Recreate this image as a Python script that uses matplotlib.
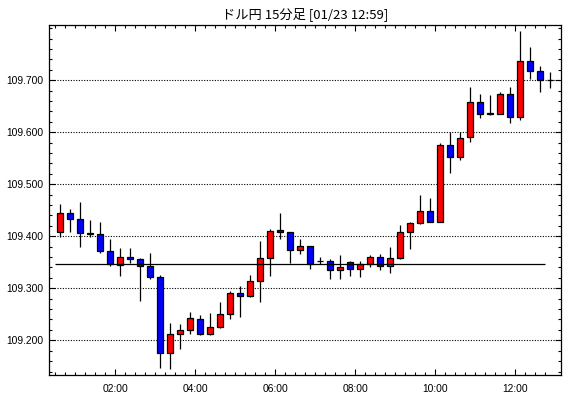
import numpy as np
import matplotlib
matplotlib.use("Agg")
import matplotlib.pyplot as plt
from matplotlib.ticker import FixedLocator, MultipleLocator

title = "ドル円 15分足 [01/23 12:59]"

# candle start times in hours (15-minute bars from 00:30)
start_hours = [0.5 + 0.25 * i for i in range(50)]

opens = [109.409, 109.444, 109.433, 109.406, 109.405, 109.371, 109.344, 109.360, 109.356, 109.342,
         109.322, 109.175, 109.212, 109.219, 109.240, 109.212, 109.225, 109.250, 109.290, 109.286,
         109.314, 109.358, 109.412, 109.408, 109.373, 109.381, 109.353, 109.353, 109.335, 109.350,
         109.337, 109.346, 109.360, 109.342, 109.358, 109.408, 109.425, 109.449, 109.427, 109.575,
         109.552, 109.590, 109.659, 109.638, 109.636, 109.674, 109.630, 109.738, 109.717, 109.700]
highs = [109.462, 109.453, 109.466, 109.431, 109.428, 109.394, 109.378, 109.378, 109.358, 109.368,
         109.325, 109.233, 109.231, 109.254, 109.249, 109.253, 109.274, 109.295, 109.304, 109.326,
         109.391, 109.414, 109.445, 109.408, 109.395, 109.381, 109.360, 109.356, 109.364, 109.352,
         109.353, 109.364, 109.366, 109.379, 109.422, 109.427, 109.479, 109.473, 109.579, 109.600,
         109.600, 109.688, 109.674, 109.672, 109.678, 109.688, 109.794, 109.764, 109.727, 109.716]
lows = [109.399, 109.409, 109.380, 109.399, 109.367, 109.342, 109.324, 109.349, 109.276, 109.318,
        109.147, 109.145, 109.184, 109.212, 109.210, 109.211, 109.223, 109.240, 109.244, 109.283,
        109.273, 109.324, 109.394, 109.349, 109.365, 109.338, 109.347, 109.318, 109.318, 109.324,
        109.322, 109.340, 109.336, 109.330, 109.356, 109.376, 109.423, 109.427, 109.427, 109.522,
        109.546, 109.581, 109.627, 109.634, 109.636, 109.617, 109.623, 109.702, 109.677, 109.685]
closes = [109.444, 109.433, 109.406, 109.404, 109.371, 109.346, 109.360, 109.356, 109.342, 109.322,
          109.175, 109.212, 109.219, 109.242, 109.212, 109.225, 109.250, 109.290, 109.286, 109.314,
          109.358, 109.410, 109.408, 109.373, 109.381, 109.347, 109.353, 109.335, 109.340, 109.338,
          109.346, 109.360, 109.342, 109.358, 109.408, 109.425, 109.449, 109.427, 109.575, 109.552,
          109.589, 109.659, 109.636, 109.636, 109.674, 109.630, 109.738, 109.717, 109.700, 109.700]

ref_level = 109.346
y_ticks = [109.2, 109.3, 109.4, 109.5, 109.6, 109.7]
y_labels = ["109.200", "109.300", "109.400", "109.500", "109.600", "109.700"]
x_ticks = [2, 4, 6, 8, 10, 12]
x_labels = ["02:00", "04:00", "06:00", "08:00", "10:00", "12:00"]

UP = "#ff0000"
DOWN = "#0000ff"

fig = plt.figure(figsize=(5.70, 3.98), dpi=100)
ax = fig.add_axes([49/570, (398-375.3)/398, (561-49)/570, (375.3-25)/398])

bar_len = 0.25
x = np.array(start_hours) + bar_len / 2
o = np.array(opens); c = np.array(closes); h = np.array(highs); l = np.array(lows)

ax.vlines(x, l, h, color="black", linewidth=0.9, zorder=2)
colors = [UP if cc > oo else (DOWN if cc < oo else "black") for oo, cc in zip(o, c)]
ax.bar(x, np.abs(c - o), bottom=np.minimum(o, c), width=0.15, color=colors,
       edgecolor="black", linewidth=0.9, zorder=3)

ax.hlines(ref_level, start_hours[0], start_hours[-2] + bar_len, color="black",
          linewidth=0.9, zorder=4)

for yv in y_ticks:
    ax.axhline(yv, color="black", linestyle=(0, (1, 1.4)), linewidth=0.8, zorder=1)

ax.set_xlim(0.3425, 13.1425)
ax.set_ylim(109.1327, 109.8063)

ax.xaxis.set_major_locator(FixedLocator(x_ticks))
ax.set_xticklabels(x_labels)
ax.xaxis.set_minor_locator(FixedLocator([start_hours[0] + bar_len * i for i in range(len(start_hours))]))
ax.yaxis.set_major_locator(FixedLocator(y_ticks))
ax.set_yticklabels(y_labels)
ax.yaxis.set_minor_locator(MultipleLocator(0.02))

ax.tick_params(which="both", direction="in", top=True, right=True, width=0.8, color="black")
ax.tick_params(which="major", length=4.2)
ax.tick_params(which="minor", length=2.0)
ax.tick_params(axis="x", which="major", pad=6)
ax.tick_params(axis="y", which="major", pad=4)
for lab in ax.get_xticklabels() + ax.get_yticklabels():
    lab.set_fontfamily("Liberation Sans")
    lab.set_fontsize(7.4)
for sp in ax.spines.values():
    sp.set_linewidth(0.9)

ax.set_title(title, fontsize=9.5, family=["Noto Sans CJK JP", "DejaVu Sans"], pad=5)

fig.savefig("out.png", dpi=100)
